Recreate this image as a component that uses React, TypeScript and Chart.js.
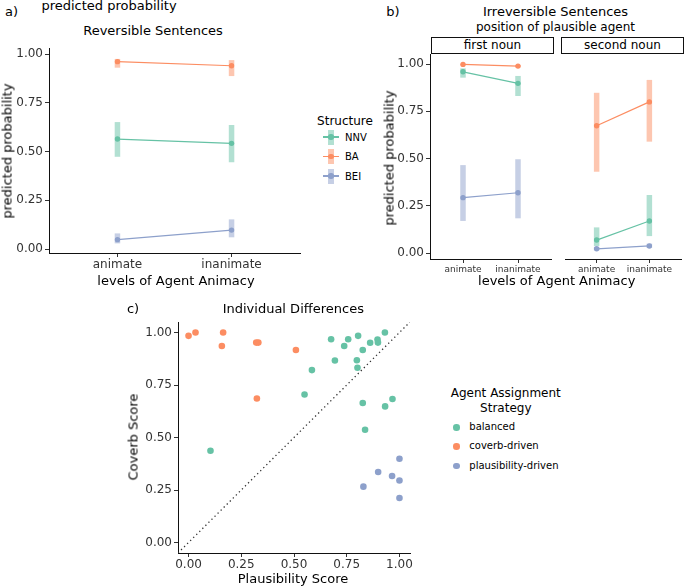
import React, { useEffect, useRef } from 'react';
import { Chart, registerables } from 'chart.js';
Chart.register(...registerables);

const FONT = "'DejaVu Sans', Verdana, sans-serif";

// ---------- data ----------
const animacyLabels = ['animate', 'inanimate'];
const structureNames = ['NNV', 'BA', 'BEI'];
const facetNames = ['first noun', 'second noun'];
const probTicks = [0, 0.25, 0.5, 0.75, 1];
const scoreTicks = [0, 0.25, 0.5, 0.75, 1];

// a) Reversible sentences
const revNNV = [0.564, 0.542];
const revNNVLo = [0.473, 0.445];
const revNNVHi = [0.651, 0.636];
const revBA = [0.961, 0.94];
const revBALo = [0.93, 0.887];
const revBAHi = [0.975, 0.969];
const revBEI = [0.048, 0.097];
const revBEILo = [0.029, 0.06];
const revBEIHi = [0.08, 0.152];

// b) Irreversible sentences, first noun
const firstNNV = [0.959, 0.898];
const firstNNVLo = [0.928, 0.831];
const firstNNVHi = [0.977, 0.937];
const firstBA = [0.998, 0.989];
const firstBALo = [0.994, 0.983];
const firstBAHi = [1.0, 0.995];
const firstBEI = [0.294, 0.32];
const firstBEILo = [0.171, 0.185];
const firstBEIHi = [0.466, 0.497];

// b) Irreversible sentences, second noun
const secondNNV = [0.07, 0.171];
const secondNNVLo = [0.039, 0.091];
const secondNNVHi = [0.137, 0.308];
const secondBA = [0.674, 0.8];
const secondBALo = [0.431, 0.59];
const secondBAHi = [0.848, 0.916];
const secondBEI = [0.024, 0.039];
const secondBEILo = [0.016, 0.029];
const secondBEIHi = [0.034, 0.051];

// c) Individual differences
const strategyNames = ['balanced', 'coverb-driven', 'plausibility-driven'];
const balancedPlaus = [0.676, 0.757, 0.804, 0.738, 0.861, 0.896, 0.898, 0.931, 0.826, 0.694, 0.798, 0.801, 0.585, 0.55, 0.826, 0.932, 0.967, 0.837, 0.104];
const balancedCoverb = [0.968, 0.968, 0.984, 0.936, 0.951, 0.967, 0.952, 1.0, 0.917, 0.867, 0.868, 0.832, 0.821, 0.705, 0.664, 0.648, 0.683, 0.537, 0.437];
const coverbPlaus = [0.0, 0.033, 0.164, 0.158, 0.321, 0.331, 0.509, 0.324];
const coverbCoverb = [0.984, 1.0, 1.0, 0.936, 0.952, 0.952, 0.917, 0.686];
const plausPlaus = [1.0, 0.899, 0.965, 1.0, 0.829, 1.0];
const plausCoverb = [0.399, 0.336, 0.317, 0.295, 0.266, 0.212];
const diagonal = [-0.05, 1.05];

// ---------- styles ----------
const GREEN = '#66C2A5';
const ORANGE = '#FC8D62';
const BLUE = '#8DA0CB';
const GREEN_A = 'rgba(102,194,165,0.5)';
const ORANGE_A = 'rgba(252,141,98,0.5)';
const BLUE_A = 'rgba(141,160,203,0.5)';
const seriesColors = [GREEN, ORANGE, BLUE];
const seriesAlpha = [GREEN_A, ORANGE_A, BLUE_A];

function seriesSets(vals: number[], lo: number[], hi: number[], color: string, alpha: string) {
  const line: any = {
    data: vals.map((v, i) => ({ x: i + 1, y: v })),
    showLine: true,
    borderColor: color,
    backgroundColor: color,
    borderWidth: 1.2,
    pointRadius: 2.7,
    pointBorderWidth: 0,
    order: 1,
  };
  const bars = vals.map((_, i) => ({
    data: [{ x: i + 1, y: lo[i] }, { x: i + 1, y: hi[i] }],
    showLine: true,
    borderColor: alpha,
    backgroundColor: alpha,
    borderWidth: 5.5,
    borderCapStyle: 'butt',
    pointRadius: 0,
    order: 2,
  }));
  return [line, ...bars];
}

function axisY(min: number, max: number, ticks: number[], width: number, display = true, size = 12) {
  return {
    type: 'linear',
    min,
    max,
    display,
    afterBuildTicks: (s: any) => {
      s.ticks = ticks.map((v) => ({ value: v }));
    },
    afterFit: (s: any) => {
      s.width = width;
      s.paddingTop = 0;
      s.paddingBottom = 0;
    },
    ticks: {
      callback: (v: any) => Number(v).toFixed(2),
      color: '#333',
      font: { size, family: FONT },
      padding: 2,
    },
    grid: { drawOnChartArea: false, drawTicks: true, tickLength: 4, tickColor: '#333', color: '#333' },
    border: { display: true, color: '#111', width: 1 },
  };
}

function axisX(min: number, max: number, ticks: number[], labels: string[] | null, height: number, size: number) {
  return {
    type: 'linear',
    min,
    max,
    afterBuildTicks: (s: any) => {
      s.ticks = ticks.map((v) => ({ value: v }));
    },
    afterFit: (s: any) => {
      s.height = height;
      s.paddingLeft = 0;
      s.paddingRight = 0;
    },
    ticks: {
      callback: (v: any) => (labels ? labels[Math.round(v) - 1] : Number(v).toFixed(2)),
      color: '#333',
      font: { size, family: FONT },
      padding: 1,
      maxRotation: 0,
      autoSkip: false,
    },
    grid: { drawOnChartArea: false, drawTicks: true, tickLength: 4, tickColor: '#333', color: '#333' },
    border: { display: true, color: '#111', width: 1 },
  };
}

function baseOptions(padding: any, scales: any) {
  return {
    responsive: false,
    animation: false,
    devicePixelRatio: 1,
    events: [],
    layout: { padding },
    plugins: { legend: { display: false }, tooltip: { enabled: false }, title: { display: false } },
    scales,
  };
}

function ChartBox({ make, left, top, width, height }: any) {
  const ref = useRef<HTMLCanvasElement | null>(null);
  useEffect(() => {
    const chart = new Chart(ref.current as HTMLCanvasElement, make());
    return () => chart.destroy();
  }, []);
  return (
    <canvas
      ref={ref}
      width={width}
      height={height}
      style={{ position: 'absolute', left, top, width, height }}
    />
  );
}

function T({ x, y, size = 13, children, rotate = false, anchor = 'middle', color = '#000' }: any) {
  const tx = anchor === 'start' ? '0' : '-50%';
  return (
    <div
      style={{
        position: 'absolute',
        left: x,
        top: y,
        transform: `translate(${tx},-50%)${rotate ? ' rotate(-90deg)' : ''}`,
        fontSize: size,
        lineHeight: 1,
        whiteSpace: 'nowrap',
        fontFamily: FONT,
        color,
      }}
    >
      {children}
    </div>
  );
}

const makeA = () => ({
  type: 'scatter',
  data: {
    datasets: [
      ...seriesSets(revNNV, revNNVLo, revNNVHi, GREEN, GREEN_A),
      ...seriesSets(revBA, revBALo, revBAHi, ORANGE, ORANGE_A),
      ...seriesSets(revBEI, revBEILo, revBEIHi, BLUE, BLUE_A),
    ],
  },
  options: baseOptions(
    { top: 8, right: 6, left: 0, bottom: 0 },
    { x: axisX(0.4, 2.6, [1, 2], animacyLabels, 22, 12), y: axisY(-0.0205, 1.031, probTicks, 49) }
  ),
});

const makeBLeft = () => ({
  type: 'scatter',
  data: {
    datasets: [
      ...seriesSets(firstNNV, firstNNVLo, firstNNVHi, GREEN, GREEN_A),
      ...seriesSets(firstBA, firstBALo, firstBAHi, ORANGE, ORANGE_A),
      ...seriesSets(firstBEI, firstBEILo, firstBEIHi, BLUE, BLUE_A),
    ],
  },
  options: baseOptions(
    { top: 4, right: 1, left: 0, bottom: 0 },
    { x: axisX(0.4, 2.6, [1, 2], animacyLabels, 20, 9), y: axisY(-0.03, 1.053, probTicks, 50) }
  ),
});

const makeBRight = () => ({
  type: 'scatter',
  data: {
    datasets: [
      ...seriesSets(secondNNV, secondNNVLo, secondNNVHi, GREEN, GREEN_A),
      ...seriesSets(secondBA, secondBALo, secondBAHi, ORANGE, ORANGE_A),
      ...seriesSets(secondBEI, secondBEILo, secondBEIHi, BLUE, BLUE_A),
    ],
  },
  options: baseOptions(
    { top: 4, right: 1, left: 0, bottom: 0 },
    { x: axisX(0.4, 2.6, [1, 2], animacyLabels, 20, 9), y: axisY(-0.03, 1.053, probTicks, 0, false) }
  ),
});

const pts = (xs: number[], ys: number[]) => xs.map((x, i) => ({ x, y: ys[i] }));

const makeC = () => ({
  type: 'scatter',
  data: {
    datasets: [
      { data: pts(balancedPlaus, balancedCoverb), backgroundColor: GREEN, borderWidth: 0, pointRadius: 3.3, order: 1 },
      { data: pts(coverbPlaus, coverbCoverb), backgroundColor: ORANGE, borderWidth: 0, pointRadius: 3.3, order: 1 },
      { data: pts(plausPlaus, plausCoverb), backgroundColor: BLUE, borderWidth: 0, pointRadius: 3.3, order: 1 },
      {
        data: pts(diagonal, diagonal),
        showLine: true,
        borderColor: '#333',
        borderWidth: 1.3,
        borderDash: [1.3, 3],
        pointRadius: 0,
        order: 2,
      },
    ],
  },
  options: baseOptions(
    { top: 8, right: 5, left: 0, bottom: 0 },
    { x: axisX(-0.05, 1.05, scoreTicks, null, 25, 12), y: axisY(-0.05, 1.05, scoreTicks, 40) }
  ),
});

function StructureKey({ x, y, i }: any) {
  return (
    <>
      <div style={{ position: 'absolute', left: x - 3, top: y - 7.5, width: 6, height: 15, background: seriesAlpha[i] }} />
      <div style={{ position: 'absolute', left: x - 8, top: y - 0.6, width: 16, height: 1.2, background: seriesColors[i] }} />
      <div style={{ position: 'absolute', left: x - 2.7, top: y - 2.7, width: 5.4, height: 5.4, borderRadius: '50%', background: seriesColors[i] }} />
    </>
  );
}

export default function App() {
  const strip = (left: number, label: string) => (
    <div
      style={{
        position: 'absolute',
        left,
        top: 37,
        width: 123,
        height: 17,
        boxSizing: 'border-box',
        border: '1px solid #111',
        fontFamily: FONT,
        fontSize: 12,
        lineHeight: '15px',
        textAlign: 'center',
        color: '#000',
      }}
    >
      {label}
    </div>
  );
  return (
    <div style={{ position: 'absolute', left: 0, top: 0, width: 685, height: 586, background: '#fff', overflow: 'hidden' }}>
      {/* panel a */}
      <T x={11.5} y={11} size={13}>a)</T>
      <T x={109} y={5} size={13}>predicted probability</T>
      <T x={153} y={30} size={13}>Reversible Sentences</T>
      <ChartBox make={makeA} left={0} top={40} width={306} height={235} />
      <T x={7} y={151} size={13} rotate>predicted probability</T>
      <T x={176} y={279.5} size={13}>levels of Agent Animacy</T>
      <T x={345} y={121} size={12}>Structure</T>
      {structureNames.map((n, i) => (
        <React.Fragment key={n}>
          <StructureKey x={331} y={137 + i * 19.5} i={i} />
          <T x={345} y={137.5 + i * 19.5} size={10} anchor="start">{n}</T>
        </React.Fragment>
      ))}

      {/* panel b */}
      <T x={393} y={10.5} size={13}>b)</T>
      <T x={555.5} y={10.5} size={13}>Irreversible Sentences</T>
      <T x={555.5} y={26.5} size={12}>position of plausible agent</T>
      {strip(431, facetNames[0])}
      {strip(561, facetNames[1])}
      <ChartBox make={makeBLeft} left={380} top={50} width={175} height={229} />
      <ChartBox make={makeBRight} left={561} top={50} width={124} height={229} />
      <T x={388.7} y={158} size={13} rotate>predicted probability</T>
      <T x={556.7} y={279.5} size={13}>levels of Agent Animacy</T>

      {/* panel c */}
      <T x={133} y={308} size={13}>c)</T>
      <T x={293.3} y={308} size={13}>Individual Differences</T>
      <ChartBox make={makeC} left={138} top={314} width={277} height={264} />
      <T x={132.8} y={436.5} size={13} rotate>Coverb Score</T>
      <T x={293} y={577.7} size={13}>Plausibility Score</T>
      <T x={505.8} y={393} size={12}>Agent Assignment</T>
      <T x={505.8} y={408} size={12}>Strategy</T>
      {strategyNames.map((n, i) => (
        <React.Fragment key={n}>
          <div
            style={{
              position: 'absolute',
              left: 456.7 - 3.3,
              top: 427.5 + i * 19.2 - 3.3,
              width: 6.6,
              height: 6.6,
              borderRadius: '50%',
              background: seriesColors[i],
            }}
          />
          <T x={469.3} y={427.2 + i * 19.2} size={10} anchor="start">{n}</T>
        </React.Fragment>
      ))}
    </div>
  );
}
